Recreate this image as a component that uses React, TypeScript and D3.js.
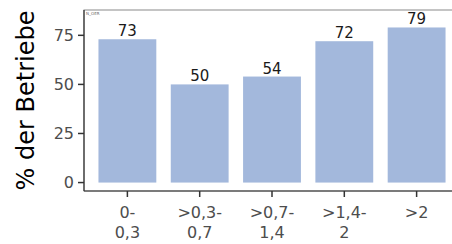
import React from "react";
import { scaleBand, scaleLinear } from "d3";

const categories = ["0-\n0,3", ">0,3-\n0,7", ">0,7-\n1,4", ">1,4-\n2", ">2"];
const values = [73, 50, 54, 72, 79];
const yTicks = [0, 25, 50, 75];

export default function App() {
  const width = 452;
  const height = 244;
  const panel = { left: 84, right: 460, top: 10, bottom: 191 };

  const xScale = scaleBand<number>()
    .domain(categories.map((_, i) => i))
    .range([panel.left, panel.right])
    .paddingInner(0.2)
    .paddingOuter(0.2);

  const yScale = scaleLinear()
    .domain([-4.3, 87.9])
    .range([panel.bottom, panel.top]);

  const tickColor = "#4d4d4d";

  return (
    <svg
      width={width}
      height={height}
      style={{ position: "absolute", left: 0, top: 0, background: "white" }}
      fontFamily="DejaVu Sans, sans-serif"
    >
      <rect
        x={panel.left}
        y={panel.top}
        width={panel.right - panel.left}
        height={panel.bottom - panel.top}
        fill="white"
        stroke="#8a8a8a"
        strokeWidth={1}
      />
      <text x={panel.left + 2} y={panel.top + 5} fontSize={4} fill="#666">
        N_OER
      </text>

      {values.map((v, i) => (
        <g key={i}>
          <rect
            x={xScale(i)}
            y={yScale(v)}
            width={xScale.bandwidth()}
            height={yScale(0) - yScale(v)}
            fill="#a3b8dc"
          />
          <text
            x={(xScale(i) as number) + xScale.bandwidth() / 2}
            y={yScale(v) - 3}
            textAnchor="middle"
            fontSize={15}
            fill="#1a1a1a"
          >
            {v}
          </text>
        </g>
      ))}

      {/* axes lines */}
      <line x1={panel.left} x2={panel.left} y1={panel.top} y2={panel.bottom} stroke="#333" strokeWidth={1.2} />
      <line x1={panel.left} x2={panel.right} y1={panel.bottom} y2={panel.bottom} stroke="#333" strokeWidth={1.2} />

      {yTicks.map((t) => (
        <g key={t}>
          <line x1={panel.left - 6} x2={panel.left} y1={yScale(t)} y2={yScale(t)} stroke="#333" strokeWidth={1.5} />
          <text
            x={panel.left - 10}
            y={yScale(t)}
            dy="0.36em"
            textAnchor="end"
            fontSize={16}
            fill={tickColor}
          >
            {t}
          </text>
        </g>
      ))}

      {categories.map((c, i) => {
        const cx = (xScale(i) as number) + xScale.bandwidth() / 2;
        return (
          <g key={c}>
            <line x1={cx} x2={cx} y1={panel.bottom} y2={panel.bottom + 6} stroke="#333" strokeWidth={1.5} />
            {c.split("\n").map((line, j) => (
              <text
                key={j}
                x={cx}
                y={218 + j * 20}
                textAnchor="middle"
                fontSize={16}
                fill={tickColor}
              >
                {line}
              </text>
            ))}
          </g>
        );
      })}

      <text
        transform={`translate(34,${(panel.top + panel.bottom) / 2}) rotate(-90)`}
        textAnchor="middle"
        fontSize={24}
        fill="#000"
      >
        % der Betriebe
      </text>
    </svg>
  );
}
